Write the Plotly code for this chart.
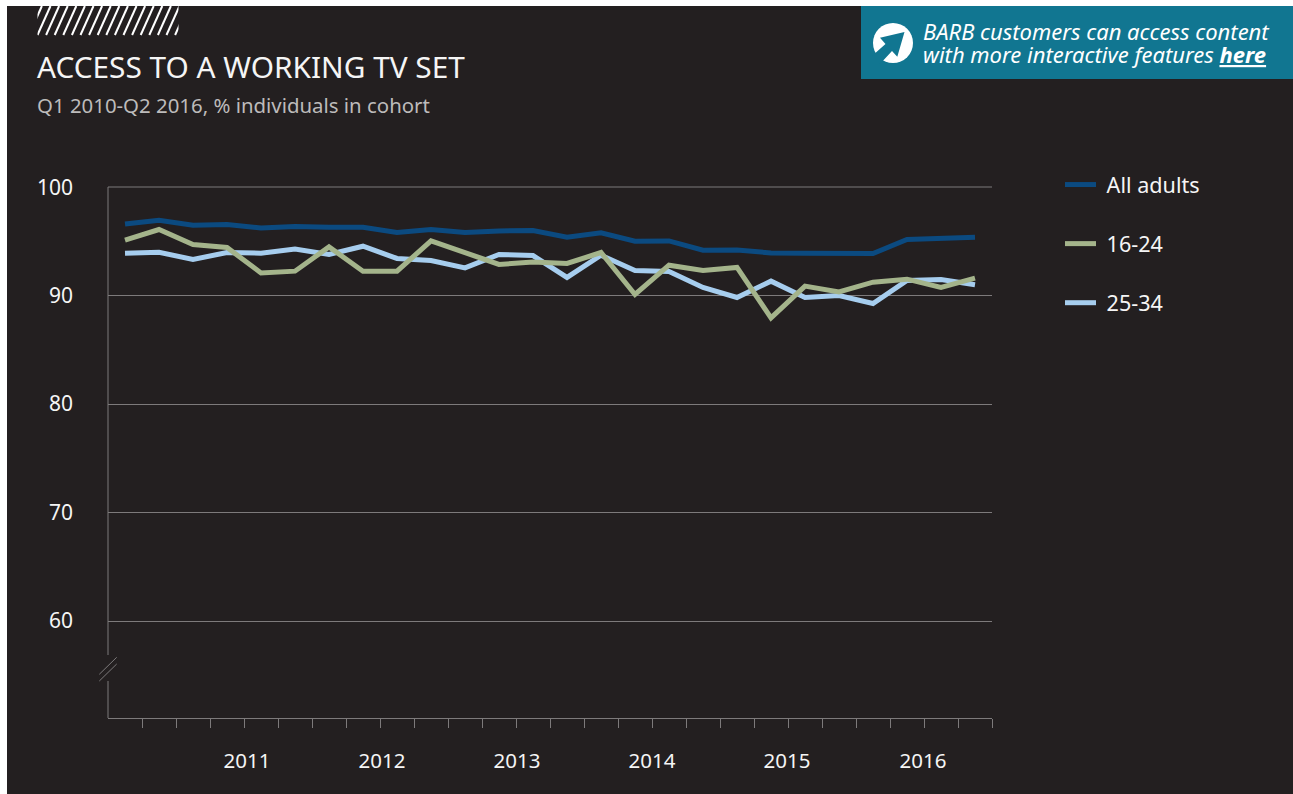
import plotly.graph_objects as go

quarter_index = list(range(26))
quarters = [f"Q{q} {y}" for y in range(2010, 2017) for q in (1, 2, 3, 4)][:26]

all_adults = [96.6, 96.96, 96.5, 96.56, 96.25, 96.38, 96.31, 96.31, 95.82, 96.1, 95.82, 95.97, 96.0,
              95.39, 95.79, 95.02, 95.05, 94.19, 94.22, 93.94, 93.92, 93.89, 93.89, 95.18, 95.3, 95.39]
age_16_24 = [95.12, 96.1, 94.72, 94.44, 92.1, 92.26, 94.5, 92.26, 92.26, 95.05, 93.98, 92.88, 93.1,
             92.97, 93.98, 90.11, 92.81, 92.32, 92.6, 87.95, 90.88, 90.35, 91.24, 91.52, 90.76, 91.61]
age_25_34 = [93.92, 94.0, 93.34, 93.98, 93.92, 94.31, 93.8, 94.56, 93.43, 93.24, 92.56, 93.8, 93.7,
             91.68, 93.73, 92.32, 92.23, 90.76, 89.83, 91.34, 89.83, 90.02, 89.28, 91.4, 91.49, 91.0]

year_ticks = [3.59, 7.56, 11.53, 15.5, 19.47, 23.47]
year_labels = ["2011", "2012", "2013", "2014", "2015", "2016"]
y_ticks = [60, 70, 80, 90, 100]

BG, GRID, TEXT = "#231f20", "#7d7a7b", "#f5f5f5"
FONT = "Noto Sans"
W, H = 1293, 794
L, R, T, B = 108, 992, 187, 718


def px(x):
    return (x - L) / (R - L)


def py(y):
    return (B - y) / (B - T)


def rect(x0, y0, x1, y1, color):
    return dict(type="rect", xref="paper", yref="paper", x0=px(x0), x1=px(x1), y0=py(y0), y1=py(y1),
                fillcolor=color, line_width=0, layer="below")


def seg(x0, y0, x1, y1, color=GRID, width=1):
    return dict(type="line", xref="paper", yref="paper", x0=px(x0), x1=px(x1), y0=py(y0), y1=py(y1),
                line=dict(color=color, width=width))


shapes = [
    rect(0, 0, W, 6, "white"),
    rect(0, 0, 7, H, "white"),
    rect(861, 6, W, 79, "#117691"),
    seg(108, 187, 108, 655),
    seg(108, 681, 108, 718),
    seg(108, 187, 992, 187),
    seg(99.3, 674.3, 116.7, 657.3),
    seg(99.3, 681, 116.7, 664),
    dict(type="circle", xref="paper", yref="paper", x0=px(873), x1=px(913), y0=py(23), y1=py(63),
         fillcolor="white", line_width=0),
]
arrow_pts = [(904.5, 32), (880, 37.7), (885.5, 44), (872, 56), (880, 64), (892, 51), (897.3, 56.7)]
shapes.append(dict(type="path", xref="paper", yref="paper", fillcolor="#117691", line_width=0,
                   path="M" + " L".join(f"{px(a):.5f},{py(b):.5f}" for a, b in arrow_pts) + " Z"))
for i in range(-1, 17):
    shapes.append(seg(37.5 + 8.6 * i, 35, 37.5 + 8.6 * i + 13, 6, "white", 2))
shapes.append(rect(178.5, 5, 200, 36, BG) | dict(layer="above"))
shapes.append(rect(25, 6, 37.5, 36, BG) | dict(layer="above"))
shapes.append(rect(25, 0, 200, 6, "white") | dict(layer="above"))

fig = go.Figure()
for name, vals, color in [("25-34", age_25_34, "#a6cdee"), ("All adults", all_adults, "#0b4a80"), ("16-24", age_16_24, "#a4b48b")]:
    fig.add_trace(go.Scatter(x=quarter_index, y=vals, name="\u00a0" + name, mode="lines", text=quarters,
                             line=dict(color=color, width=5), legendgroup=name,
                             legendrank={"All adults": 1, "16-24": 2, "25-34": 3}[name]))


def note(x, y, text, size, color=TEXT, anchor="left", **font):
    return dict(xref="paper", yref="paper", x=px(x), y=py(y), text=text, showarrow=False,
                xanchor=anchor, yanchor="middle", font=dict(family=FONT, size=size, color=color, **font))


fig.update_layout(
    width=W, height=H, margin=dict(l=L, r=W - R, t=T, b=H - B),
    paper_bgcolor=BG, plot_bgcolor=BG, shapes=shapes,
    font=dict(family=FONT, size=20, color=TEXT),
    annotations=[
        note(34.5, 66.5, "ACCESS TO A WORKING TV SET", 29.8),
        note(35, 105, "Q1 2010-Q2 2016, % individuals in cohort", 20.4, "#bdbbbb"),
        note(920.5, 31, "<i>BARB customers can access content</i>", 22, "white"),
        note(920.5, 54.5, "<i>with more interactive features <b><u>here</u></b></i>", 22, "white"),
    ],
    showlegend=True,
    legend=dict(x=px(1060), y=py(164), xanchor="left", yanchor="top", tracegroupgap=28, itemwidth=31,
                traceorder="grouped", font=dict(size=21.6, color=TEXT), bgcolor="rgba(0,0,0,0)"),
    xaxis=dict(range=[-0.5, 25.5], tickmode="array", tickvals=year_ticks, ticktext=year_labels,
               ticks="", showgrid=False, zeroline=False,
               showline=True, linecolor=GRID, linewidth=1, ticklabelstandoff=24,
               minor=dict(tickmode="array", tickvals=[i + 0.5 for i in range(26)], ticks="outside",
                          ticklen=9, tickcolor=GRID, tickwidth=1.2, showgrid=False),
               tickfont=dict(size=20.5, color=TEXT)),
    yaxis=dict(range=[51.06, 100.02], tickmode="array", tickvals=y_ticks, showgrid=True, gridcolor=GRID,
               gridwidth=1, zeroline=False, showline=False, ticks="", ticklabelstandoff=34,
               tickfont=dict(size=21, color=TEXT)),
)
fig.write_html("out.html", config={"displayModeBar": False},
               post_script="document.body.style.margin='0';document.body.style.overflow='hidden';")
